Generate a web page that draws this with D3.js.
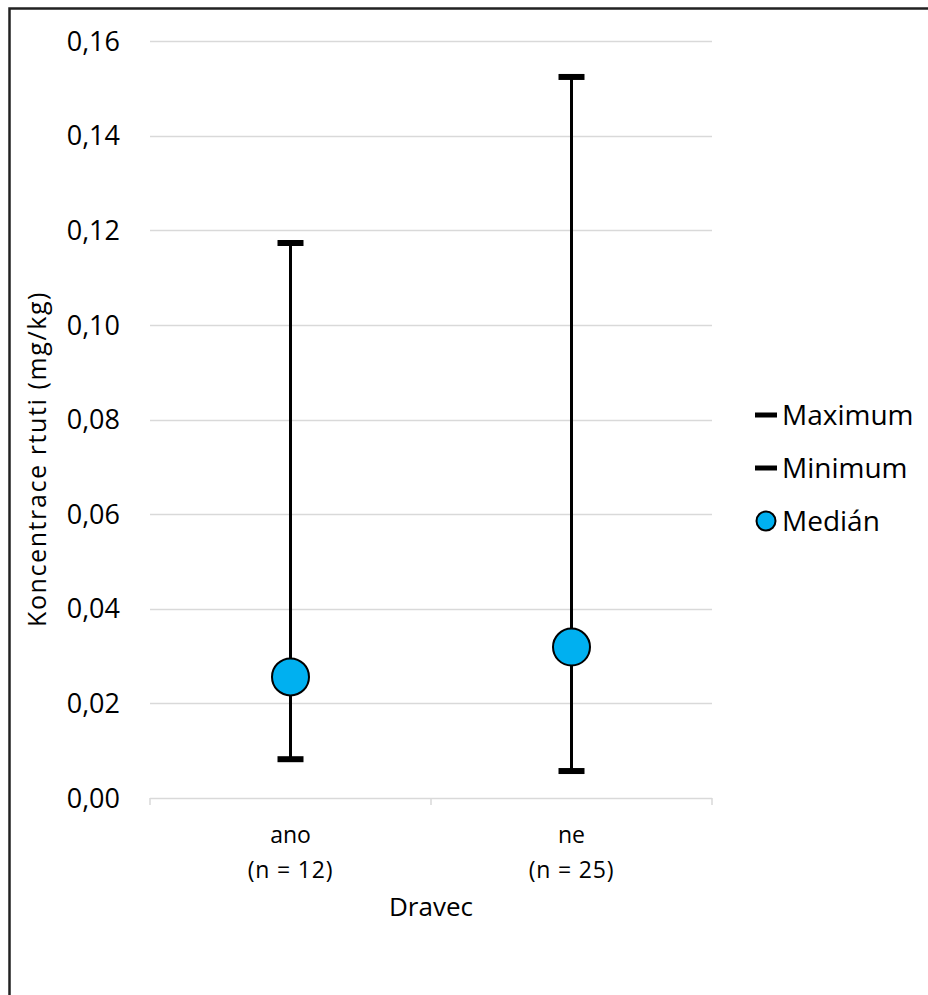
<!DOCTYPE html>
<html>
<head>
<meta charset="utf-8">
<script src="https://cdn.jsdelivr.net/npm/d3@7"></script>
<style>
  html, body { margin: 0; padding: 0; background: #fff; }
  svg text { font-family: "Open Sans", "Noto Sans", sans-serif; fill: #000; }
</style>
</head>
<body>
<svg id="chart" width="928" height="995"></svg>
<script>
// Mercury concentration by group (Dravec: ano / ne)
const categories = ["ano", "ne"];
const sampleSizes = ["(n = 12)", "(n = 25)"];
const maxValues = [0.1173, 0.1524];
const minValues = [0.0082, 0.0057];
const medianValues = [0.0256, 0.0319];
const yTicks = [0, 0.02, 0.04, 0.06, 0.08, 0.10, 0.12, 0.14, 0.16];
const legendLabels = ["Maximum", "Minimum", "Medián"];

const svg = d3.select("#chart");

// outer frame
svg.append("rect")
  .attr("x", 9.5).attr("y", 8.5)
  .attr("width", 940).attr("height", 1000)
  .attr("fill", "none").attr("stroke", "#222").attr("stroke-width", 2.5);

const plot = { left: 150, right: 712, top: 41, bottom: 798 };

const x = d3.scaleBand().domain(categories).range([plot.left, plot.right]);
const y = d3.scaleLinear().domain([0, 0.16]).range([plot.bottom, plot.top]);

const fmt = d => d3.format(".2f")(d).replace(".", ",");

// horizontal gridlines
svg.append("g")
  .selectAll("line")
  .data(yTicks.filter(d => d > 0))
  .join("line")
  .attr("x1", plot.left).attr("x2", plot.right)
  .attr("y1", d => Math.round(y(d)) + 0.5).attr("y2", d => Math.round(y(d)) + 0.5)
  .attr("stroke", "#d9d9d9").attr("stroke-width", 1.5);

// y tick labels
svg.append("g")
  .selectAll("text")
  .data(yTicks)
  .join("text")
  .attr("x", 120).attr("y", d => y(d))
  .attr("dy", "0.36em")
  .attr("text-anchor", "end")
  .attr("font-size", 27)
  .text(fmt);

// x axis line with category separators
const xAxis = svg.append("g");
xAxis.append("line")
  .attr("x1", plot.left).attr("x2", plot.right)
  .attr("y1", plot.bottom + 0.5).attr("y2", plot.bottom + 0.5)
  .attr("stroke", "#d9d9d9").attr("stroke-width", 1.5);
const sepPos = categories.map(c => x(c)).concat([x(categories[categories.length - 1]) + x.bandwidth()]);
xAxis.selectAll("line.tick")
  .data(sepPos)
  .join("line")
  .attr("class", "tick")
  .attr("x1", d => d).attr("x2", d => d)
  .attr("y1", plot.bottom).attr("y2", plot.bottom + 7)
  .attr("stroke", "#d9d9d9").attr("stroke-width", 1.5);

// category labels
const catLabels = svg.append("g");
categories.forEach((c, i) => {
  const cx = x(c) + x.bandwidth() / 2;
  catLabels.append("text")
    .attr("x", cx).attr("y", 843)
    .attr("text-anchor", "middle").attr("font-size", 23)
    .text(c);
  catLabels.append("text")
    .attr("x", cx).attr("y", 878)
    .attr("text-anchor", "middle").attr("font-size", 23)
    .attr("letter-spacing", 0.8)
    .text(sampleSizes[i]);
});

// axis titles
svg.append("text")
  .attr("x", (plot.left + plot.right) / 2).attr("y", 916)
  .attr("text-anchor", "middle").attr("font-size", 26)
  .text("Dravec");

svg.append("text")
  .attr("transform", "translate(46,459) rotate(-90)")
  .attr("text-anchor", "middle").attr("font-size", 25)
  .attr("letter-spacing", 1.6)
  .text("Koncentrace rtuti (mg/kg)");

// range whiskers, caps and median markers
const groups = svg.append("g")
  .selectAll("g")
  .data(categories.map((c, i) => ({ c, max: maxValues[i], min: minValues[i], med: medianValues[i] })))
  .join("g")
  .attr("transform", d => `translate(${x(d.c) + x.bandwidth() / 2},0)`);

groups.append("line")
  .attr("x1", 0).attr("x2", 0)
  .attr("y1", d => y(d.max)).attr("y2", d => y(d.min))
  .attr("stroke", "#000").attr("stroke-width", 3);

groups.append("line")
  .attr("x1", -13).attr("x2", 13)
  .attr("y1", d => y(d.max)).attr("y2", d => y(d.max))
  .attr("stroke", "#000").attr("stroke-width", 6);

groups.append("line")
  .attr("x1", -13).attr("x2", 13)
  .attr("y1", d => y(d.min)).attr("y2", d => y(d.min))
  .attr("stroke", "#000").attr("stroke-width", 6);

groups.append("circle")
  .attr("cx", 0).attr("cy", d => y(d.med))
  .attr("r", 18.5)
  .attr("fill", "#00b0f0").attr("stroke", "#000").attr("stroke-width", 2);

// legend
const legend = svg.append("g");
const legendY = [415, 468, 521];
legendLabels.forEach((lab, i) => {
  const ly = legendY[i];
  if (i < 2) {
    legend.append("line")
      .attr("x1", 755).attr("x2", 777)
      .attr("y1", ly).attr("y2", ly)
      .attr("stroke", "#000").attr("stroke-width", 5);
  } else {
    legend.append("circle")
      .attr("cx", 766).attr("cy", ly).attr("r", 9.5)
      .attr("fill", "#00b0f0").attr("stroke", "#000").attr("stroke-width", 2);
  }
  legend.append("text")
    .attr("x", 782).attr("y", ly)
    .attr("dy", "0.36em").attr("font-size", 28)
    .text(lab);
});
</script>
</body>
</html>
